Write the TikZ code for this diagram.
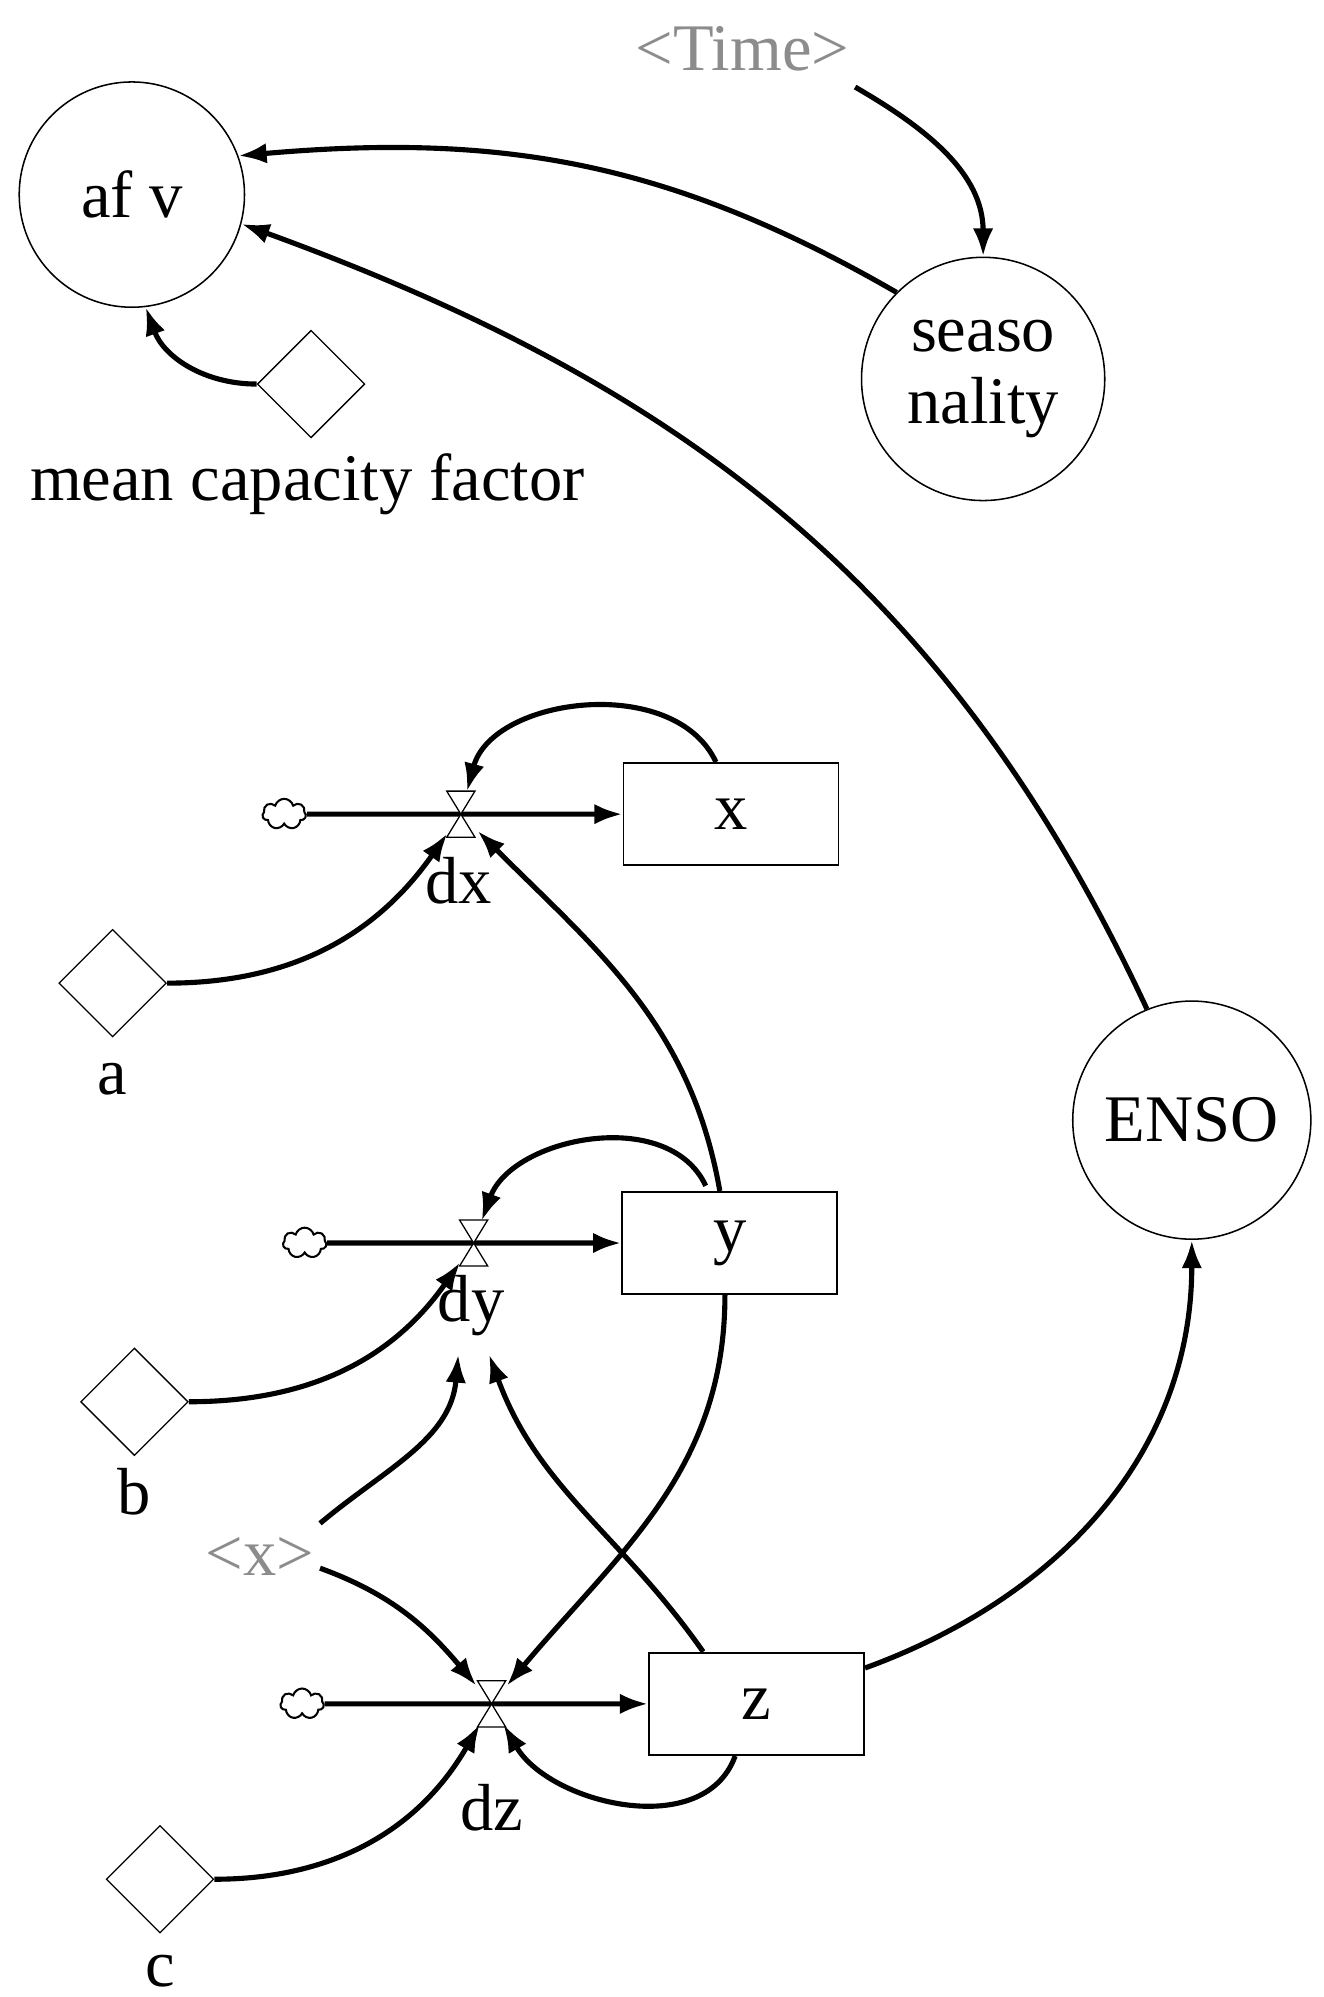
\documentclass[tikz,border=0pt]{standalone}
\usepackage{fontspec}
\setmainfont{Liberation Serif}
\usetikzlibrary{shapes.geometric,shapes.symbols,arrows.meta,calc}
\begin{document}
\begin{tikzpicture}[x=0.5pt,y=0.5pt,
  lbl/.style={font=\fontsize{26}{28}\selectfont, inner sep=0pt},
  gray lbl/.style={lbl, text=gray!90},
  aux/.style={circle, draw, line width=0.6pt, inner sep=0pt, font=\fontsize{26}{28}\selectfont, align=center},
  stock/.style={rectangle, draw, line width=0.7pt, minimum width=84pt, minimum height=40pt, font=\fontsize{26}{28}\selectfont},
  const/.style={diamond, draw, line width=0.5pt, minimum size=42pt, inner sep=0pt, aspect=1},
  src/.style={cloud, cloud puffs=7, draw, line width=0.8pt, minimum width=17pt, minimum height=12pt, inner sep=0pt},
  valve/.style={circle, minimum size=18pt, inner sep=0pt},
  link/.style={line width=2pt, -{Latex[length=11pt,width=8pt]}},
  flow/.style={line width=2pt, -{Latex[length=11pt,width=8pt]}}]
\useasboundingbox (0,0) rectangle (1034,-1560);
% nodes
\node[gray lbl] (time) at (580,-38) {<Time>};
\node[aux, minimum size=88pt] (afv) at (103,-152) {af v};
\node[aux, minimum size=95pt] (seas) at (768,-296) {seaso\\nality};
\node[const] (mcf) at (243,-300) {};
\node[lbl] (mcfl) at (240,-378) {mean capacity factor};
\node[aux, minimum size=93pt] (enso) at (931,-875) {ENSO};
\node[stock] (x) at (571,-636) {x};
\node[stock] (y) at (570,-971) {y};
\node[stock] (z) at (591,-1331) {z};
\node[valve] (dx) at (360,-636) {};
\node[valve] (dy) at (370,-971) {};
\node[valve] (dz) at (384,-1331) {};
\node[lbl] (dxl) at (358,-688) {dx};
\node[lbl] (dyl) at (368,-1020) {dy};
\node[lbl] (dzl) at (384,-1412) {dz};
\node[src] (cx) at (222,-636) {};
\node[src] (cy) at (238,-971) {};
\node[src] (cz) at (236,-1331) {};
\node[const] (a) at (88,-768) {};
\node[lbl] (al) at (88,-843) {a};
\node[const] (b) at (105,-1095) {};
\node[lbl] (bl) at (105,-1165) {b};
\node[const] (c) at (125,-1468) {};
\node[lbl] (cl) at (125,-1540) {c};
\node[gray lbl] (xs) at (203,-1216) {<x>};
\coordinate (xs1) at (250,-1190);
\coordinate (xs2) at (250,-1225);
\coordinate (dyin1) at (358,-1058);
\coordinate (dyin2) at (382,-1058);
\coordinate (timeout) at (668,-68);
% flows
\draw[flow] (cx.east) -- (x.west);
\draw[flow] (cy.east) -- (y.west);
\draw[flow] (cz.east) -- (z.west);
% valves
\foreach \v in {dx,dy,dz}{
  \draw[line width=0.5pt, fill=white] (\v.center) -- ++(-11,18) -- ++(22,0) -- cycle;
  \draw[line width=0.5pt, fill=white] (\v.center) -- ++(-11,-18) -- ++(22,0) -- cycle;
}
% links
\draw[link] (timeout) to[out=-30,in=90] (seas.north);
\draw[link] (seas.135) to[out=150,in=5] (afv.20);
\draw[link] (enso.112) to[out=115,in=-20] (afv.-15);
\draw[link] (mcf.west) to[out=180,in=-70] (afv.-83);
\draw[link] ($(x.north west)+(73,0)$) to[out=115,in=75] (dx);
\draw[link] (a.east) to[out=0,in=-125] (dx);
\draw[link] ($(y.north west)+(77,0)$) to[out=100,in=-45] (dx);
\draw[link] ($(y.north west)+(66,4)$) to[out=115,in=70] (dy);
\draw[link] (b.east) to[out=0,in=-125] (dy);
\draw[link] (xs1) to[out=40,in=-95] (dyin1);
\draw[link] ($(z.north west)+(43,0)$) to[out=125,in=-70] (dyin2);
\draw[link] (xs2) to[out=-20,in=130] (dz);
\draw[link] ($(y.south west)+(81,0)$) to[out=-90,in=50] (dz);
\draw[link] (c.east) to[out=0,in=-120] (dz);
\draw[link] ($(z.south west)+(68,0)$) to[out=-110,in=-60] (dz);
\draw[link] ($(z.east)+(0,28)$) to[out=20,in=-90] (enso.south);
\end{tikzpicture}
\end{document}
